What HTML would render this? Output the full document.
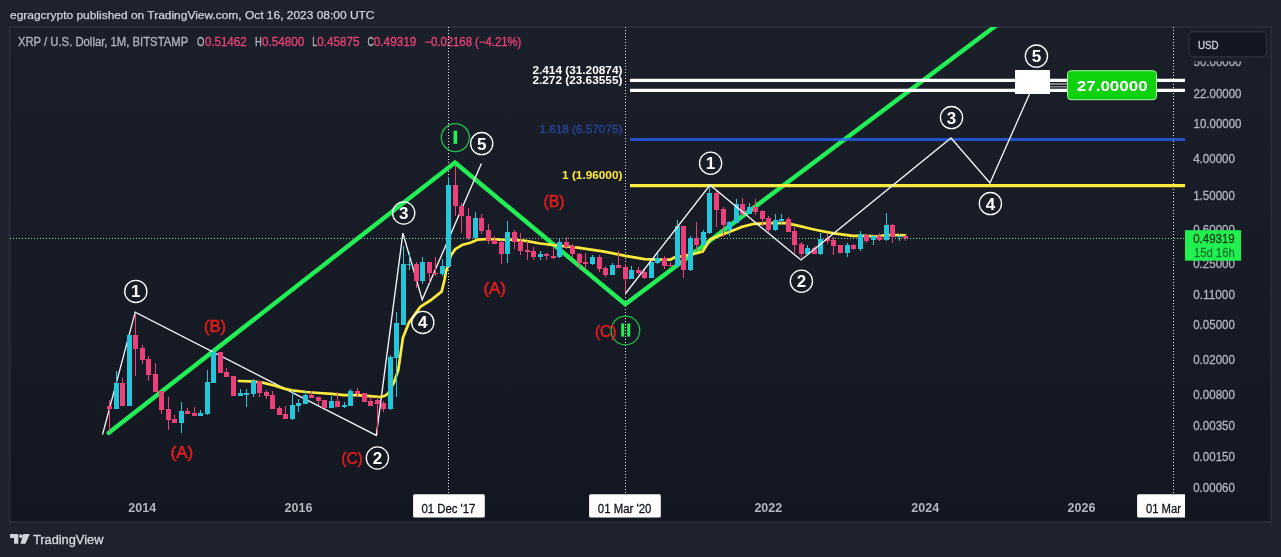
<!DOCTYPE html><html><head><meta charset="utf-8"><title>XRP chart</title>
<style>html,body{margin:0;padding:0;background:#1e222d;}body{width:1281px;height:557px;overflow:hidden;font-family:"Liberation Sans",sans-serif;}svg{display:block;will-change:transform}</style></head><body>
<svg width="1281" height="557" viewBox="0 0 1281 557" font-family="Liberation Sans, sans-serif">
<defs><linearGradient id="bg" x1="0" y1="0" x2="0" y2="1"><stop offset="0" stop-color="#1b1f2a"/><stop offset="1" stop-color="#131722"/></linearGradient>
<clipPath id="plot"><rect x="10" y="27" width="1175" height="466"/></clipPath>
<clipPath id="frame"><rect x="10" y="27" width="1260" height="494"/></clipPath></defs>
<rect x="0" y="0" width="1281" height="557" fill="#1e222d"/>
<rect x="9.6" y="27" width="1261.6" height="495" fill="url(#bg)" stroke="#282c38" stroke-width="2"/>
<text x="10" y="18.7" font-size="11.6" fill="#d1d4dc" textLength="364.5" lengthAdjust="spacingAndGlyphs" stroke="#d1d4dc" stroke-width="0.25">egragcrypto published on TradingView.com, Oct 16, 2023 08:00 UTC</text>
<text x="17.9" y="45.8" font-size="12" fill="#b2b5be" font-weight="normal" text-anchor="start" textLength="170.3" lengthAdjust="spacingAndGlyphs" stroke="#b2b5be" stroke-width="0.3">XRP / U.S. Dollar, 1M, BITSTAMP</text>
<text x="197" y="45.8" font-size="12" fill="#b2b5be" font-weight="normal" text-anchor="start" textLength="7.5" lengthAdjust="spacingAndGlyphs" stroke="#b2b5be" stroke-width="0.3">O</text>
<text x="204.9" y="45.8" font-size="12" fill="#ec407a" font-weight="normal" text-anchor="start" textLength="41.7" lengthAdjust="spacingAndGlyphs" stroke="#ec407a" stroke-width="0.3">0.51462</text>
<text x="255" y="45.8" font-size="12" fill="#b2b5be" font-weight="normal" text-anchor="start" textLength="6.8" lengthAdjust="spacingAndGlyphs" stroke="#b2b5be" stroke-width="0.3">H</text>
<text x="262.1" y="45.8" font-size="12" fill="#ec407a" font-weight="normal" text-anchor="start" textLength="42.2" lengthAdjust="spacingAndGlyphs" stroke="#ec407a" stroke-width="0.3">0.54800</text>
<text x="312.3" y="45.8" font-size="12" fill="#b2b5be" font-weight="normal" text-anchor="start" textLength="5" lengthAdjust="spacingAndGlyphs" stroke="#b2b5be" stroke-width="0.3">L</text>
<text x="317.3" y="45.8" font-size="12" fill="#ec407a" font-weight="normal" text-anchor="start" textLength="42.2" lengthAdjust="spacingAndGlyphs" stroke="#ec407a" stroke-width="0.3">0.45875</text>
<text x="367.5" y="45.8" font-size="12" fill="#b2b5be" font-weight="normal" text-anchor="start" textLength="6.3" lengthAdjust="spacingAndGlyphs" stroke="#b2b5be" stroke-width="0.3">C</text>
<text x="373.8" y="45.8" font-size="12" fill="#ec407a" font-weight="normal" text-anchor="start" textLength="42.6" lengthAdjust="spacingAndGlyphs" stroke="#ec407a" stroke-width="0.3">0.49319</text>
<text x="424.4" y="45.8" font-size="12" fill="#ec407a" font-weight="normal" text-anchor="start" textLength="97" lengthAdjust="spacingAndGlyphs" stroke="#ec407a" stroke-width="0.3">−0.02168 (−4.21%)</text>
<g clip-path="url(#plot)">
<line x1="448.5" y1="27" x2="448.5" y2="494" stroke="#f0f0f4" stroke-width="1" stroke-dasharray="1 2"/>
<line x1="625.5" y1="27" x2="625.5" y2="494" stroke="#f0f0f4" stroke-width="1" stroke-dasharray="1 2"/>
<line x1="1173.5" y1="27" x2="1173.5" y2="494" stroke="#f0f0f4" stroke-width="1" stroke-dasharray="1 2"/>
<line x1="10" y1="238.5" x2="1185" y2="238.5" stroke="#86d4a0" stroke-width="1" stroke-dasharray="1 2" shape-rendering="crispEdges"/>
<polyline fill="none" stroke="#22ee55" stroke-width="4.4" stroke-linejoin="miter" stroke-linecap="round" points="108.8,432.8 455,162.5 625.3,304.3 1010,15"/>
<line x1="630" y1="80.4" x2="1185" y2="80.4" stroke="#fff" stroke-width="3.2"/>
<line x1="630" y1="90.4" x2="1185" y2="90.4" stroke="#fff" stroke-width="3.2"/>
<line x1="630" y1="139.5" x2="1185" y2="139.5" stroke="#2962ff" stroke-width="3.2" opacity="0.76"/>
<line x1="630" y1="185.6" x2="1185" y2="185.6" stroke="#ffeb3b" stroke-width="3.2"/>
<polyline fill="none" stroke="#f4f5f8" stroke-width="1.35" stroke-linejoin="miter" points="102.5,434.7 135.2,312.2 376.3,435.4 402.9,233.1 422.2,299.8 481.4,163.4"/>
<polyline fill="none" stroke="#ffeb3b" stroke-width="2.7" stroke-linejoin="round" stroke-linecap="round" points="238.9,381 250,381.3 262.6,382.6 275.1,385.7 285.2,388.9 294,390.7 306.6,392 319.1,393 331.7,393.9 344.3,395.1 356.8,395.1 369.4,396.1 380.7,397 385.1,395.8 388.3,393.3 393.9,382.6 398.3,370 402.9,337.7 409,322.6 420.3,306.9 431,300 441.6,291.6 444.5,280 445.8,272 447.3,267.7 450.9,255.4 455.3,249.1 462.8,244.7 470.4,242.8 477.9,239.6 488,239 500.6,239.6 513.1,239.8 525.7,240.9 540,243.5 556.3,245.4 577.7,247.6 602.8,251.4 625.5,255.8 644.3,259.2 658.1,259.6 670.7,259.6 673.8,257.7 687.7,255.2 696.4,253.3 702.7,251.5 706.5,245.2 710.3,239.5 719.1,235.7 729.1,232 741.7,226.9 754.3,223.8 766.8,223.2 785.7,223.2 795.7,225.1 810.8,228.8 820,230.7 834,233.3 852.8,235.8 865.4,235.8 878,236.5 884.3,235.2 896.8,235.2 905,235.4"/>
<rect x="109" y="400" width="1" height="32" fill="#ec407a"/>
<rect x="107" y="406" width="5" height="3" fill="#ec407a"/>
<rect x="116" y="371" width="1" height="38" fill="#26c6da"/>
<rect x="114" y="383" width="5" height="26" fill="#26c6da"/>
<rect x="122" y="378" width="1" height="28" fill="#ec407a"/>
<rect x="120" y="383" width="5" height="23" fill="#ec407a"/>
<rect x="127" y="335" width="5" height="71" fill="#26c6da"/>
<rect x="135" y="314" width="1" height="62" fill="#ec407a"/>
<rect x="133" y="335" width="5" height="14" fill="#ec407a"/>
<rect x="142" y="345" width="1" height="19" fill="#ec407a"/>
<rect x="140" y="348" width="5" height="12" fill="#ec407a"/>
<rect x="148" y="356" width="1" height="25" fill="#ec407a"/>
<rect x="146" y="359" width="5" height="16" fill="#ec407a"/>
<rect x="155" y="363" width="1" height="29" fill="#ec407a"/>
<rect x="153" y="374" width="5" height="18" fill="#ec407a"/>
<rect x="161" y="391" width="1" height="23" fill="#ec407a"/>
<rect x="159" y="391" width="5" height="19" fill="#ec407a"/>
<rect x="168" y="397" width="1" height="33" fill="#ec407a"/>
<rect x="166" y="409" width="5" height="11" fill="#ec407a"/>
<rect x="174" y="415" width="1" height="8" fill="#ec407a"/>
<rect x="172" y="419" width="5" height="4" fill="#ec407a"/>
<rect x="181" y="402" width="1" height="31" fill="#26c6da"/>
<rect x="179" y="411" width="5" height="12" fill="#26c6da"/>
<rect x="187" y="408" width="1" height="6" fill="#ec407a"/>
<rect x="185" y="411" width="5" height="3" fill="#ec407a"/>
<rect x="194" y="407" width="1" height="9" fill="#ec407a"/>
<rect x="192" y="413" width="5" height="3" fill="#ec407a"/>
<rect x="200" y="410" width="1" height="6" fill="#26c6da"/>
<rect x="198" y="413" width="5" height="3" fill="#26c6da"/>
<rect x="207" y="370" width="1" height="45" fill="#26c6da"/>
<rect x="205" y="382" width="5" height="32" fill="#26c6da"/>
<rect x="213" y="350" width="1" height="33" fill="#26c6da"/>
<rect x="211" y="352" width="5" height="31" fill="#26c6da"/>
<rect x="218" y="352" width="5" height="21" fill="#ec407a"/>
<rect x="226" y="368" width="1" height="9" fill="#ec407a"/>
<rect x="224" y="372" width="5" height="5" fill="#ec407a"/>
<rect x="231" y="376" width="5" height="20" fill="#ec407a"/>
<rect x="240" y="389" width="1" height="7" fill="#26c6da"/>
<rect x="238" y="393" width="5" height="3" fill="#26c6da"/>
<rect x="246" y="389" width="1" height="18" fill="#26c6da"/>
<rect x="244" y="393" width="5" height="2" fill="#26c6da"/>
<rect x="253" y="379" width="1" height="18" fill="#26c6da"/>
<rect x="251" y="381" width="5" height="13" fill="#26c6da"/>
<rect x="259" y="381" width="1" height="16" fill="#ec407a"/>
<rect x="257" y="381" width="5" height="12" fill="#ec407a"/>
<rect x="266" y="390" width="1" height="9" fill="#ec407a"/>
<rect x="264" y="392" width="5" height="4" fill="#ec407a"/>
<rect x="272" y="391" width="1" height="18" fill="#ec407a"/>
<rect x="270" y="395" width="5" height="14" fill="#ec407a"/>
<rect x="279" y="406" width="1" height="9" fill="#ec407a"/>
<rect x="277" y="408" width="5" height="7" fill="#ec407a"/>
<rect x="285" y="406" width="1" height="13" fill="#ec407a"/>
<rect x="283" y="414" width="5" height="5" fill="#ec407a"/>
<rect x="292" y="390" width="1" height="30" fill="#26c6da"/>
<rect x="290" y="405" width="5" height="14" fill="#26c6da"/>
<rect x="298" y="399" width="1" height="13" fill="#26c6da"/>
<rect x="296" y="403" width="5" height="3" fill="#26c6da"/>
<rect x="305" y="391" width="1" height="13" fill="#26c6da"/>
<rect x="303" y="395" width="5" height="9" fill="#26c6da"/>
<rect x="311" y="391" width="1" height="7" fill="#ec407a"/>
<rect x="309" y="395" width="5" height="3" fill="#ec407a"/>
<rect x="318" y="397" width="1" height="8" fill="#ec407a"/>
<rect x="316" y="397" width="5" height="4" fill="#ec407a"/>
<rect x="322" y="400" width="5" height="8" fill="#ec407a"/>
<rect x="331" y="396" width="1" height="12" fill="#26c6da"/>
<rect x="329" y="401" width="5" height="7" fill="#26c6da"/>
<rect x="337" y="392" width="1" height="15" fill="#ec407a"/>
<rect x="335" y="401" width="5" height="6" fill="#ec407a"/>
<rect x="344" y="402" width="1" height="6" fill="#26c6da"/>
<rect x="342" y="405" width="5" height="2" fill="#26c6da"/>
<rect x="350" y="389" width="1" height="17" fill="#26c6da"/>
<rect x="348" y="391" width="5" height="15" fill="#26c6da"/>
<rect x="357" y="388" width="1" height="9" fill="#ec407a"/>
<rect x="355" y="391" width="5" height="3" fill="#ec407a"/>
<rect x="362" y="393" width="5" height="9" fill="#ec407a"/>
<rect x="370" y="397" width="1" height="9" fill="#ec407a"/>
<rect x="368" y="401" width="5" height="5" fill="#ec407a"/>
<rect x="377" y="397" width="1" height="38" fill="#ec407a"/>
<rect x="375" y="400" width="5" height="4" fill="#ec407a"/>
<rect x="383" y="401" width="1" height="11" fill="#ec407a"/>
<rect x="381" y="403" width="5" height="6" fill="#ec407a"/>
<rect x="390" y="355" width="1" height="55" fill="#26c6da"/>
<rect x="388" y="357" width="5" height="52" fill="#26c6da"/>
<rect x="396" y="312" width="1" height="85" fill="#26c6da"/>
<rect x="394" y="323" width="5" height="35" fill="#26c6da"/>
<rect x="403" y="246" width="1" height="79" fill="#26c6da"/>
<rect x="401" y="264" width="5" height="61" fill="#26c6da"/>
<rect x="409" y="252" width="1" height="18" fill="#26c6da"/>
<rect x="407" y="264" width="5" height="1" fill="#26c6da"/>
<rect x="416" y="262" width="1" height="26" fill="#ec407a"/>
<rect x="414" y="264" width="5" height="17" fill="#ec407a"/>
<rect x="422" y="257" width="1" height="27" fill="#26c6da"/>
<rect x="420" y="262" width="5" height="19" fill="#26c6da"/>
<rect x="429" y="262" width="1" height="21" fill="#ec407a"/>
<rect x="427" y="262" width="5" height="11" fill="#ec407a"/>
<rect x="435" y="257" width="1" height="19" fill="#ec407a"/>
<rect x="433" y="273" width="5" height="1" fill="#ec407a"/>
<rect x="442" y="259" width="1" height="17" fill="#26c6da"/>
<rect x="440" y="266" width="5" height="8" fill="#26c6da"/>
<rect x="448" y="177" width="1" height="90" fill="#26c6da"/>
<rect x="446" y="185" width="5" height="82" fill="#26c6da"/>
<rect x="455" y="166" width="1" height="50" fill="#ec407a"/>
<rect x="453" y="185" width="5" height="21" fill="#ec407a"/>
<rect x="461" y="203" width="1" height="30" fill="#ec407a"/>
<rect x="459" y="206" width="5" height="10" fill="#ec407a"/>
<rect x="468" y="208" width="1" height="32" fill="#ec407a"/>
<rect x="466" y="216" width="5" height="22" fill="#ec407a"/>
<rect x="475" y="212" width="1" height="26" fill="#26c6da"/>
<rect x="473" y="218" width="5" height="20" fill="#26c6da"/>
<rect x="481" y="214" width="1" height="20" fill="#ec407a"/>
<rect x="479" y="218" width="5" height="13" fill="#ec407a"/>
<rect x="488" y="224" width="1" height="20" fill="#ec407a"/>
<rect x="486" y="230" width="5" height="11" fill="#ec407a"/>
<rect x="494" y="236" width="1" height="8" fill="#ec407a"/>
<rect x="492" y="240" width="5" height="4" fill="#ec407a"/>
<rect x="501" y="240" width="1" height="24" fill="#ec407a"/>
<rect x="499" y="242" width="5" height="12" fill="#ec407a"/>
<rect x="507" y="221" width="1" height="42" fill="#26c6da"/>
<rect x="505" y="232" width="5" height="22" fill="#26c6da"/>
<rect x="514" y="230" width="1" height="19" fill="#ec407a"/>
<rect x="512" y="232" width="5" height="10" fill="#ec407a"/>
<rect x="520" y="233" width="1" height="22" fill="#ec407a"/>
<rect x="518" y="241" width="5" height="10" fill="#ec407a"/>
<rect x="527" y="241" width="1" height="19" fill="#ec407a"/>
<rect x="525" y="250" width="5" height="2" fill="#ec407a"/>
<rect x="533" y="247" width="1" height="13" fill="#ec407a"/>
<rect x="531" y="251" width="5" height="6" fill="#ec407a"/>
<rect x="540" y="251" width="1" height="9" fill="#26c6da"/>
<rect x="538" y="254" width="5" height="3" fill="#26c6da"/>
<rect x="546" y="253" width="1" height="7" fill="#ec407a"/>
<rect x="544" y="254" width="5" height="2" fill="#ec407a"/>
<rect x="553" y="247" width="1" height="12" fill="#ec407a"/>
<rect x="551" y="256" width="5" height="2" fill="#ec407a"/>
<rect x="559" y="238" width="1" height="20" fill="#26c6da"/>
<rect x="557" y="242" width="5" height="15" fill="#26c6da"/>
<rect x="566" y="237" width="1" height="12" fill="#ec407a"/>
<rect x="564" y="242" width="5" height="5" fill="#ec407a"/>
<rect x="572" y="244" width="1" height="14" fill="#ec407a"/>
<rect x="570" y="246" width="5" height="8" fill="#ec407a"/>
<rect x="579" y="253" width="1" height="15" fill="#ec407a"/>
<rect x="577" y="254" width="5" height="9" fill="#ec407a"/>
<rect x="585" y="253" width="1" height="16" fill="#ec407a"/>
<rect x="583" y="262" width="5" height="2" fill="#ec407a"/>
<rect x="592" y="255" width="1" height="10" fill="#26c6da"/>
<rect x="590" y="257" width="5" height="7" fill="#26c6da"/>
<rect x="599" y="255" width="1" height="17" fill="#ec407a"/>
<rect x="597" y="257" width="5" height="12" fill="#ec407a"/>
<rect x="605" y="266" width="1" height="11" fill="#ec407a"/>
<rect x="603" y="268" width="5" height="7" fill="#ec407a"/>
<rect x="612" y="263" width="1" height="12" fill="#26c6da"/>
<rect x="610" y="265" width="5" height="10" fill="#26c6da"/>
<rect x="618" y="251" width="1" height="17" fill="#ec407a"/>
<rect x="616" y="265" width="5" height="3" fill="#ec407a"/>
<rect x="625" y="264" width="1" height="29" fill="#ec407a"/>
<rect x="623" y="267" width="5" height="12" fill="#ec407a"/>
<rect x="631" y="266" width="1" height="13" fill="#26c6da"/>
<rect x="629" y="270" width="5" height="9" fill="#26c6da"/>
<rect x="638" y="267" width="1" height="8" fill="#ec407a"/>
<rect x="636" y="270" width="5" height="3" fill="#ec407a"/>
<rect x="644" y="270" width="1" height="9" fill="#ec407a"/>
<rect x="642" y="272" width="5" height="6" fill="#ec407a"/>
<rect x="649" y="262" width="5" height="16" fill="#26c6da"/>
<rect x="657" y="253" width="1" height="11" fill="#26c6da"/>
<rect x="655" y="258" width="5" height="5" fill="#26c6da"/>
<rect x="664" y="256" width="1" height="13" fill="#ec407a"/>
<rect x="662" y="258" width="5" height="8" fill="#ec407a"/>
<rect x="670" y="262" width="1" height="5" fill="#ec407a"/>
<rect x="668" y="265" width="5" height="1" fill="#ec407a"/>
<rect x="677" y="220" width="1" height="46" fill="#26c6da"/>
<rect x="675" y="226" width="5" height="40" fill="#26c6da"/>
<rect x="683" y="226" width="1" height="52" fill="#ec407a"/>
<rect x="681" y="226" width="5" height="44" fill="#ec407a"/>
<rect x="690" y="236" width="1" height="35" fill="#26c6da"/>
<rect x="688" y="238" width="5" height="32" fill="#26c6da"/>
<rect x="696" y="222" width="1" height="29" fill="#ec407a"/>
<rect x="694" y="238" width="5" height="7" fill="#ec407a"/>
<rect x="703" y="230" width="1" height="15" fill="#26c6da"/>
<rect x="701" y="232" width="5" height="13" fill="#26c6da"/>
<rect x="709" y="186" width="1" height="48" fill="#26c6da"/>
<rect x="707" y="193" width="5" height="40" fill="#26c6da"/>
<rect x="716" y="190" width="1" height="37" fill="#ec407a"/>
<rect x="714" y="193" width="5" height="17" fill="#ec407a"/>
<rect x="723" y="207" width="1" height="30" fill="#ec407a"/>
<rect x="721" y="209" width="5" height="16" fill="#ec407a"/>
<rect x="729" y="221" width="1" height="15" fill="#26c6da"/>
<rect x="727" y="222" width="5" height="8" fill="#26c6da"/>
<rect x="736" y="199" width="1" height="24" fill="#26c6da"/>
<rect x="734" y="204" width="5" height="19" fill="#26c6da"/>
<rect x="742" y="198" width="1" height="18" fill="#ec407a"/>
<rect x="740" y="204" width="5" height="10" fill="#ec407a"/>
<rect x="749" y="203" width="1" height="11" fill="#26c6da"/>
<rect x="747" y="207" width="5" height="7" fill="#26c6da"/>
<rect x="755" y="199" width="1" height="16" fill="#ec407a"/>
<rect x="753" y="207" width="5" height="5" fill="#ec407a"/>
<rect x="762" y="210" width="1" height="16" fill="#ec407a"/>
<rect x="760" y="211" width="5" height="8" fill="#ec407a"/>
<rect x="768" y="216" width="1" height="16" fill="#ec407a"/>
<rect x="766" y="218" width="5" height="12" fill="#ec407a"/>
<rect x="775" y="214" width="1" height="17" fill="#26c6da"/>
<rect x="773" y="220" width="5" height="10" fill="#26c6da"/>
<rect x="781" y="214" width="1" height="10" fill="#26c6da"/>
<rect x="779" y="219" width="5" height="2" fill="#26c6da"/>
<rect x="788" y="217" width="1" height="15" fill="#ec407a"/>
<rect x="786" y="219" width="5" height="13" fill="#ec407a"/>
<rect x="794" y="227" width="1" height="26" fill="#ec407a"/>
<rect x="792" y="231" width="5" height="14" fill="#ec407a"/>
<rect x="801" y="242" width="1" height="16" fill="#ec407a"/>
<rect x="799" y="244" width="5" height="10" fill="#ec407a"/>
<rect x="807" y="245" width="1" height="9" fill="#26c6da"/>
<rect x="805" y="248" width="5" height="6" fill="#26c6da"/>
<rect x="814" y="246" width="1" height="8" fill="#ec407a"/>
<rect x="812" y="248" width="5" height="6" fill="#ec407a"/>
<rect x="820" y="233" width="1" height="22" fill="#26c6da"/>
<rect x="818" y="239" width="5" height="15" fill="#26c6da"/>
<rect x="827" y="234" width="1" height="10" fill="#ec407a"/>
<rect x="825" y="238" width="5" height="3" fill="#ec407a"/>
<rect x="833" y="237" width="1" height="18" fill="#ec407a"/>
<rect x="831" y="240" width="5" height="6" fill="#ec407a"/>
<rect x="838" y="245" width="5" height="8" fill="#ec407a"/>
<rect x="847" y="243" width="1" height="14" fill="#26c6da"/>
<rect x="845" y="245" width="5" height="8" fill="#26c6da"/>
<rect x="853" y="244" width="1" height="6" fill="#ec407a"/>
<rect x="851" y="245" width="5" height="4" fill="#ec407a"/>
<rect x="860" y="231" width="1" height="20" fill="#26c6da"/>
<rect x="858" y="234" width="5" height="15" fill="#26c6da"/>
<rect x="866" y="234" width="1" height="9" fill="#ec407a"/>
<rect x="864" y="235" width="5" height="6" fill="#ec407a"/>
<rect x="873" y="235" width="1" height="10" fill="#26c6da"/>
<rect x="871" y="236" width="5" height="4" fill="#26c6da"/>
<rect x="879" y="233" width="1" height="8" fill="#ec407a"/>
<rect x="877" y="236" width="5" height="4" fill="#ec407a"/>
<rect x="886" y="213" width="1" height="28" fill="#26c6da"/>
<rect x="884" y="225" width="5" height="15" fill="#26c6da"/>
<rect x="892" y="224" width="1" height="19" fill="#ec407a"/>
<rect x="890" y="225" width="5" height="12" fill="#ec407a"/>
<rect x="899" y="234" width="1" height="7" fill="#26c6da"/>
<rect x="897" y="236" width="5" height="1" fill="#26c6da"/>
<rect x="905" y="235" width="1" height="6" fill="#ec407a"/>
<rect x="903" y="236" width="5" height="2" fill="#ec407a"/>
<polyline fill="none" stroke="#f4f5f8" stroke-width="1.35" stroke-linejoin="miter" points="625.5,293.5 710,185 801,260 951,138 990,183 1029.5,94"/>
<line x1="1050" y1="84" x2="1068" y2="84" stroke="#9a9a9a" stroke-width="1.6"/>
<line x1="1050" y1="86.8" x2="1068" y2="86.8" stroke="#9a9a9a" stroke-width="1.2"/>
<rect x="1015" y="70" width="35" height="24" fill="#fff"/>
<rect x="1067.5" y="70.7" width="89" height="29" rx="3.5" fill="#0dd20d" stroke="#a6f5a6" stroke-width="1"/>
<text x="1112.2" y="90.5" font-size="15" fill="#fff" font-weight="bold" text-anchor="middle" textLength="70.8" lengthAdjust="spacingAndGlyphs" >27.00000</text>
<circle cx="135.8" cy="291.4" r="11.1" fill="none" stroke="#fff" stroke-width="1.3"/>
<text x="135.8" y="297.4" font-size="17" font-weight="bold" fill="#fff" text-anchor="middle">1</text>
<circle cx="377.4" cy="458" r="11.1" fill="none" stroke="#fff" stroke-width="1.3"/>
<text x="377.4" y="464" font-size="17" font-weight="bold" fill="#fff" text-anchor="middle">2</text>
<circle cx="403.7" cy="213" r="11.1" fill="none" stroke="#fff" stroke-width="1.3"/>
<text x="403.7" y="219" font-size="17" font-weight="bold" fill="#fff" text-anchor="middle">3</text>
<circle cx="422.8" cy="322.4" r="11.1" fill="none" stroke="#fff" stroke-width="1.3"/>
<text x="422.8" y="328.4" font-size="17" font-weight="bold" fill="#fff" text-anchor="middle">4</text>
<circle cx="481.7" cy="143.6" r="11.1" fill="none" stroke="#fff" stroke-width="1.3"/>
<text x="481.7" y="149.6" font-size="17" font-weight="bold" fill="#fff" text-anchor="middle">5</text>
<circle cx="710.6" cy="163.2" r="11.1" fill="none" stroke="#fff" stroke-width="1.3"/>
<text x="710.6" y="169.2" font-size="17" font-weight="bold" fill="#fff" text-anchor="middle">1</text>
<circle cx="801.4" cy="281.2" r="11.1" fill="none" stroke="#fff" stroke-width="1.3"/>
<text x="801.4" y="287.2" font-size="17" font-weight="bold" fill="#fff" text-anchor="middle">2</text>
<circle cx="951.5" cy="117.6" r="11.1" fill="none" stroke="#fff" stroke-width="1.3"/>
<text x="951.5" y="123.6" font-size="17" font-weight="bold" fill="#fff" text-anchor="middle">3</text>
<circle cx="990.4" cy="203.6" r="11.1" fill="none" stroke="#fff" stroke-width="1.3"/>
<text x="990.4" y="209.6" font-size="17" font-weight="bold" fill="#fff" text-anchor="middle">4</text>
<circle cx="1036.4" cy="56.1" r="11.1" fill="none" stroke="#fff" stroke-width="1.3"/>
<text x="1036.4" y="62.1" font-size="17" font-weight="bold" fill="#fff" text-anchor="middle">5</text>
<circle cx="455.3" cy="137.6" r="14" fill="none" stroke="#22c04a" stroke-width="1.3"/>
<rect x="453.5" y="130.7" width="3.7" height="13.2" fill="#22ee55"/>
<circle cx="625.4" cy="330.5" r="14.3" fill="none" stroke="#22c04a" stroke-width="1.3"/>
<rect x="621.2" y="323.4" width="3" height="13.2" fill="#22ee55"/>
<rect x="627.2" y="323.4" width="3" height="13.2" fill="#22ee55"/>
<text x="215" y="331.7" font-size="16" fill="#e51c1c" font-weight="normal" text-anchor="middle" textLength="22" lengthAdjust="spacingAndGlyphs" stroke="#e51c1c" stroke-width="0.5">(B)</text>
<text x="181.8" y="457.7" font-size="16" fill="#e51c1c" font-weight="normal" text-anchor="middle" textLength="22.5" lengthAdjust="spacingAndGlyphs" stroke="#e51c1c" stroke-width="0.5">(A)</text>
<text x="352" y="463.7" font-size="16" fill="#e51c1c" font-weight="normal" text-anchor="middle" textLength="21.5" lengthAdjust="spacingAndGlyphs" stroke="#e51c1c" stroke-width="0.5">(C)</text>
<text x="554" y="206.7" font-size="16" fill="#e51c1c" font-weight="normal" text-anchor="middle" textLength="21" lengthAdjust="spacingAndGlyphs" stroke="#e51c1c" stroke-width="0.5">(B)</text>
<text x="494.7" y="294.3" font-size="16" fill="#e51c1c" font-weight="normal" text-anchor="middle" textLength="22.5" lengthAdjust="spacingAndGlyphs" stroke="#e51c1c" stroke-width="0.5">(A)</text>
<text x="605.7" y="336.5" font-size="16" fill="#e51c1c" font-weight="normal" text-anchor="middle" textLength="21.5" lengthAdjust="spacingAndGlyphs" stroke="#e51c1c" stroke-width="0.5">(C)</text>
<text x="622.4" y="73.6" font-size="11" fill="#fff" font-weight="bold" text-anchor="end" textLength="90" lengthAdjust="spacingAndGlyphs" >2.414 (31.20874)</text>
<text x="622.4" y="83.7" font-size="11" fill="#fff" font-weight="bold" text-anchor="end" textLength="90" lengthAdjust="spacingAndGlyphs" >2.272 (23.63555)</text>
<text x="622.4" y="132.6" font-size="11" fill="#27459c" font-weight="normal" text-anchor="end" textLength="83" lengthAdjust="spacingAndGlyphs" stroke="#27459c" stroke-width="0.3">1.618 (6.57075)</text>
<text x="622.4" y="179.1" font-size="11" fill="#ffeb3b" font-weight="bold" text-anchor="end" textLength="60.3" lengthAdjust="spacingAndGlyphs" >1 (1.96000)</text>
</g>
<text x="1193.5" y="66.3" font-size="12" fill="#b2b5be" font-weight="normal" text-anchor="start" textLength="48" lengthAdjust="spacingAndGlyphs" stroke="#b2b5be" stroke-width="0.3">50.00000</text>
<text x="1193.5" y="97.9" font-size="12" fill="#b2b5be" font-weight="normal" text-anchor="start" textLength="48" lengthAdjust="spacingAndGlyphs" stroke="#b2b5be" stroke-width="0.3">22.00000</text>
<text x="1193.5" y="128.2" font-size="12" fill="#b2b5be" font-weight="normal" text-anchor="start" textLength="48" lengthAdjust="spacingAndGlyphs" stroke="#b2b5be" stroke-width="0.3">10.00000</text>
<text x="1193.2" y="163" font-size="12" fill="#b2b5be" font-weight="normal" text-anchor="start" textLength="41.8" lengthAdjust="spacingAndGlyphs" stroke="#b2b5be" stroke-width="0.3">4.00000</text>
<text x="1193.2" y="199.5" font-size="12" fill="#b2b5be" font-weight="normal" text-anchor="start" textLength="41.8" lengthAdjust="spacingAndGlyphs" stroke="#b2b5be" stroke-width="0.3">1.50000</text>
<text x="1193.2" y="233.9" font-size="12" fill="#b2b5be" font-weight="normal" text-anchor="start" textLength="41.8" lengthAdjust="spacingAndGlyphs" stroke="#b2b5be" stroke-width="0.3">0.60000</text>
<text x="1193.2" y="267.8" font-size="12" fill="#b2b5be" font-weight="normal" text-anchor="start" textLength="41.8" lengthAdjust="spacingAndGlyphs" stroke="#b2b5be" stroke-width="0.3">0.25000</text>
<text x="1193.2" y="299.4" font-size="12" fill="#b2b5be" font-weight="normal" text-anchor="start" textLength="41.8" lengthAdjust="spacingAndGlyphs" stroke="#b2b5be" stroke-width="0.3">0.11000</text>
<text x="1193.2" y="328.5" font-size="12" fill="#b2b5be" font-weight="normal" text-anchor="start" textLength="41.8" lengthAdjust="spacingAndGlyphs" stroke="#b2b5be" stroke-width="0.3">0.05000</text>
<text x="1193.2" y="364.3" font-size="12" fill="#b2b5be" font-weight="normal" text-anchor="start" textLength="41.8" lengthAdjust="spacingAndGlyphs" stroke="#b2b5be" stroke-width="0.3">0.02000</text>
<text x="1193.2" y="399.2" font-size="12" fill="#b2b5be" font-weight="normal" text-anchor="start" textLength="41.8" lengthAdjust="spacingAndGlyphs" stroke="#b2b5be" stroke-width="0.3">0.00800</text>
<text x="1193.2" y="430.3" font-size="12" fill="#b2b5be" font-weight="normal" text-anchor="start" textLength="41.8" lengthAdjust="spacingAndGlyphs" stroke="#b2b5be" stroke-width="0.3">0.00350</text>
<text x="1193.2" y="461.1" font-size="12" fill="#b2b5be" font-weight="normal" text-anchor="start" textLength="41.8" lengthAdjust="spacingAndGlyphs" stroke="#b2b5be" stroke-width="0.3">0.00150</text>
<text x="1193.2" y="491.8" font-size="12" fill="#b2b5be" font-weight="normal" text-anchor="start" textLength="41.8" lengthAdjust="spacingAndGlyphs" stroke="#b2b5be" stroke-width="0.3">0.00060</text>
<rect x="1185.5" y="28" width="84.5" height="33.4" fill="#1a1e29"/>
<rect x="1189" y="31.6" width="77.5" height="25.2" rx="4" fill="#131722" stroke="#2e323e" stroke-width="1.2"/>
<text x="1198" y="48.5" font-size="11.5" fill="#d1d4dc" font-weight="normal" text-anchor="start" textLength="20.6" lengthAdjust="spacingAndGlyphs" stroke="#d1d4dc" stroke-width="0.3">USD</text>
<rect x="1185" y="230.2" width="56" height="30.5" fill="#22f050"/>
<text x="1193.2" y="242.8" font-size="12" fill="#0b3d1a" font-weight="normal" text-anchor="start" textLength="41.5" lengthAdjust="spacingAndGlyphs" stroke="#0b3d1a" stroke-width="0.3">0.49319</text>
<text x="1193.9" y="256.8" font-size="12" fill="#0d7a2e" font-weight="normal" text-anchor="start" textLength="40.8" lengthAdjust="spacingAndGlyphs" stroke="#0d7a2e" stroke-width="0.3">15d 16h</text>
<text x="142.2" y="512" font-size="12" fill="#b2b5be" font-weight="bold" text-anchor="middle" textLength="27.8" lengthAdjust="spacingAndGlyphs" >2014</text>
<text x="298.5" y="512" font-size="12" fill="#b2b5be" font-weight="bold" text-anchor="middle" textLength="27.8" lengthAdjust="spacingAndGlyphs" >2016</text>
<text x="768.3" y="512" font-size="12" fill="#b2b5be" font-weight="bold" text-anchor="middle" textLength="27.8" lengthAdjust="spacingAndGlyphs" >2022</text>
<text x="925.2" y="512" font-size="12" fill="#b2b5be" font-weight="bold" text-anchor="middle" textLength="27.8" lengthAdjust="spacingAndGlyphs" >2024</text>
<text x="1081.5" y="512" font-size="12" fill="#b2b5be" font-weight="bold" text-anchor="middle" textLength="27.8" lengthAdjust="spacingAndGlyphs" >2026</text>
<rect x="413.1" y="494.2" width="71.7" height="23.4" rx="1.5" fill="#fff"/>
<text x="421.4" y="512.8" font-size="12" fill="#131722" font-weight="normal" text-anchor="start" textLength="54" lengthAdjust="spacingAndGlyphs" stroke="#131722" stroke-width="0.3">01 Dec '17</text>
<rect x="589.1" y="494.2" width="71.7" height="23.4" rx="1.5" fill="#fff"/>
<text x="597.8" y="512.8" font-size="12" fill="#131722" font-weight="normal" text-anchor="start" textLength="53.6" lengthAdjust="spacingAndGlyphs" stroke="#131722" stroke-width="0.3">01 Mar '20</text>
<path d="M1138.6 494.2H1185V517.6H1138.6Q1137.1 517.6 1137.1 516.1V495.7Q1137.1 494.2 1138.6 494.2Z" fill="#fff"/>
<text x="1145.9" y="512.8" font-size="12" fill="#131722" font-weight="normal" text-anchor="start" textLength="35.1" lengthAdjust="spacingAndGlyphs" stroke="#131722" stroke-width="0.3">01 Mar</text>
<g fill="#d1d4dc"><path d="M10.1 534.1H18.3V543.7H14V538.1H10.1Z"/><circle cx="20.9" cy="536.1" r="1.85"/><path d="M23.3 534.1H29.8L25.4 543.7H20.5Z"/></g>
<text x="32.9" y="543.7" font-size="12.6" fill="#d1d4dc" font-weight="normal" text-anchor="start" textLength="70.5" lengthAdjust="spacingAndGlyphs" stroke="#d1d4dc" stroke-width="0.35">TradingView</text>
</svg></body></html>
